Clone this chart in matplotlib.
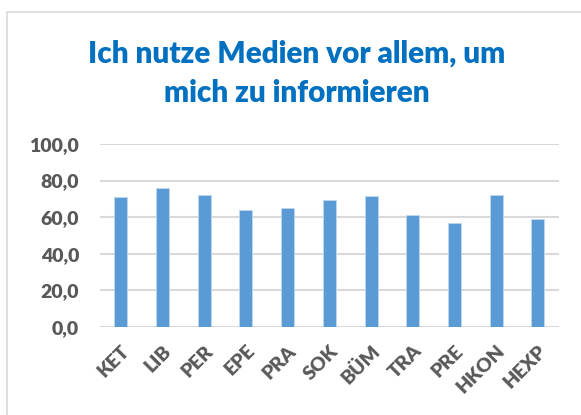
import matplotlib

matplotlib.use("Agg")

import matplotlib.pyplot as plt
from matplotlib.patches import Rectangle

categories = ["KET", "LIB", "PER", "EPE", "PRA", "SOK", "BÜM", "TRA", "PRE", "HKON", "HEXP"]
values = [71.0, 76.1, 72.3, 64.0, 65.1, 69.3, 71.4, 61.0, 56.8, 71.9, 58.8]
yticks = [0, 20, 40, 60, 80, 100]
title_lines = ["Ich nutze Medien vor allem, um", "mich zu informieren"]

plt.rcParams["font.family"] = ["Lato", "DejaVu Sans"]

W, H = 581, 415
fig = plt.figure(figsize=(W / 100, H / 100), dpi=100)

# chart frame (cropped at right and bottom)
fig.patches.append(Rectangle((6.5 / W, -0.1), 1.2, 1 - 12 / H + 0.1,
                             transform=fig.transFigure, fill=False,
                             edgecolor="#D9D9D9", linewidth=1.2))

ax = fig.add_axes([100 / W, 1 - 326.7 / H, (558.7 - 100) / W, (326.7 - 144) / H])

x = range(len(categories))
ax.bar(x, values, width=0.31, color="#5B9BD5", edgecolor="#BDD7EE",
       linewidth=0.6, zorder=3)

ax.set_xlim(-0.5, len(categories) - 0.5)
ax.set_ylim(0, 100)
ax.set_yticks(yticks)
ax.set_yticklabels([f"{v:.1f}".replace(".", ",") for v in yticks])
ax.set_xticks(list(x))
ax.set_xticklabels(categories, rotation=45, ha="right", va="top",
                   rotation_mode="anchor")

for lbl in ax.get_yticklabels() + ax.get_xticklabels():
    lbl.set_fontsize(14)
    lbl.set_fontweight("heavy")
    lbl.set_color("#595959")

ax.tick_params(length=0)
ax.tick_params(axis="y", pad=15)
ax.tick_params(axis="x", pad=11)
ax.grid(axis="y", color="#D9D9D9", linewidth=1.5, zorder=0)
for s in ax.spines.values():
    s.set_visible(False)

for line, base in zip(title_lines, [63, 102]):
    fig.text(297 / W, 1 - base / H, line, ha="center", va="baseline",
             fontsize=21.3, fontweight="heavy", color="#0070C0")

fig.savefig("out.png", dpi=100)
